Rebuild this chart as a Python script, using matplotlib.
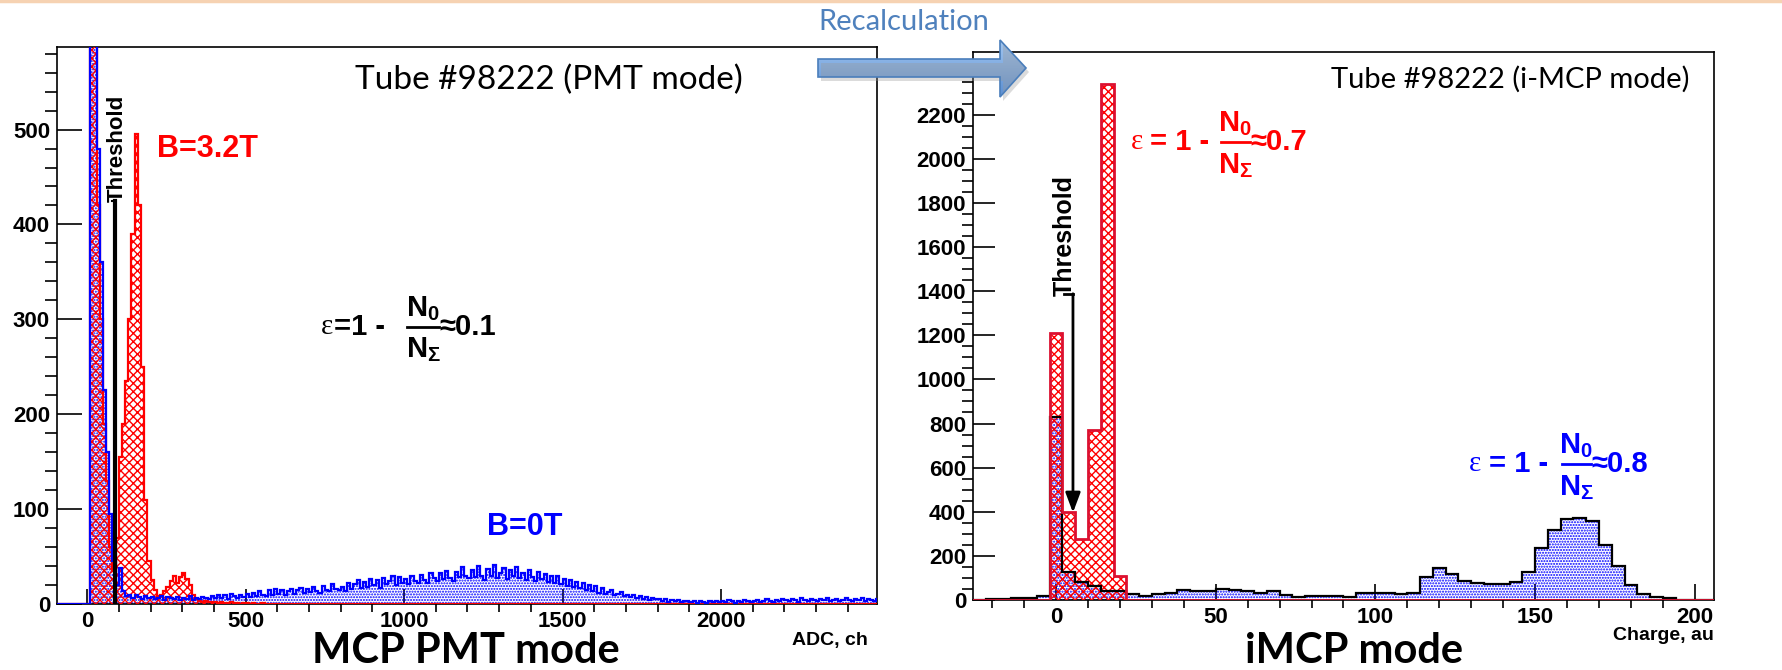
import numpy as np
import matplotlib.pyplot as plt
from matplotlib.patches import Polygon
from matplotlib.colors import LinearSegmentedColormap
from matplotlib.ticker import MultipleLocator

W, H = 1783, 670

# ---------- left panel: MCP PMT mode, ADC spectrum, 10 ch bins from -100 ----------
pmt_start = -100
pmt_width = 10
# B=0T (blue)
pmt_b0 = [0] * 10 + [
    0, 1500, 1400, 480, 360, 225, 160, 95, 45, 20,
    38, 14, 8, 10, 6, 9, 7, 5, 8, 6,
    7, 5, 6, 8, 4, 7, 6, 5, 7, 4,
    6, 5, 8, 4, 6, 5, 7, 6, 5, 8,
    6, 10, 6, 9, 5, 11, 8, 6, 10, 7,
    11, 7, 12, 8, 14, 9, 8, 15, 10, 16,
    11, 15, 10, 14, 16, 11, 15, 17, 12, 16,
    13, 18, 14, 12, 19, 15, 14, 21, 16, 15,
    18, 14, 22, 16, 21, 25, 17, 23, 18, 26,
    20, 25, 17, 27, 21, 24, 29, 20, 28, 22,
    26, 21, 30, 24, 22, 31, 25, 22, 33, 27,
    24, 33, 26, 35, 27, 24, 34, 28, 39, 30,
    27, 36, 28, 40, 29, 25, 37, 30, 41, 27,
    33, 38, 26, 36, 29, 39, 27, 33, 25, 36,
    28, 24, 34, 26, 32, 23, 30, 22, 29, 21,
    26, 19, 25, 18, 23, 17, 22, 15, 20, 14,
    19, 12, 17, 11, 13, 15, 9, 11, 13, 8,
    10, 7, 9, 6, 8, 5, 7, 4, 6, 5,
    5, 3, 5, 2, 4, 3, 4, 2, 3, 3,
    2, 3, 1, 3, 2, 1, 3, 2, 3, 2,
    3, 2, 4, 3, 1, 3, 2, 4, 3, 2,
    3, 4, 2, 3, 5, 3, 2, 4, 3, 5,
    4, 3, 5, 4, 2, 6, 4, 3, 5, 4,
    3, 5, 4, 6, 3, 4, 5, 3, 4, 6,
    4, 3, 5, 4, 6, 3, 5, 4, 3, 5,
]
# B=3.2T (red)
pmt_b32 = [0] * 10 + [
    0, 1500, 1300, 420, 300, 190, 130, 60, 35, 70,
    155, 190, 235, 300, 390, 495, 420, 250, 110, 45,
    25, 15, 8, 10, 14, 18, 24, 30, 22, 28,
    33, 26, 20, 10, 5, 3, 2, 3, 2, 2,
    2, 1, 2, 1, 1, 2, 1, 1, 0, 1,
    1, 0, 1, 0, 0, 1, 0, 0, 0, 0,
]
pmt_b32 = pmt_b32 + [0] * (len(pmt_b0) - len(pmt_b32))
pmt_threshold = 88

# ---------- right panel: iMCP mode, charge spectrum, 4 au bins from -30 ----------
imcp_start = -30
imcp_width = 4
imcp_b0 = [
    0, 0, 5, 5, 10, 10, 19, 830, 125, 82,
    64, 42, 42, 26, 20, 27, 33, 46, 40, 42,
    50, 45, 40, 33, 40, 22, 14, 16, 20, 18,
    15, 30, 33, 30, 28, 30, 102, 145, 117, 87,
    78, 74, 74, 80, 126, 236, 316, 366, 371, 358,
    250, 152, 70, 28, 15, 7, 2, 1, 0, 0,
]
imcp_b32 = [
    0, 0, 0, 0, 0, 0, 0, 1210, 400, 275,
    770, 2340, 110, 0, 0, 0, 0, 0, 0, 0,
    0, 0, 0, 0, 0, 0, 0, 0, 0, 0,
    0, 0, 0, 0, 0, 0, 0, 0, 0, 0,
    0, 0, 0, 0, 0, 0, 0, 0, 0, 0,
    0, 0, 0, 0, 0, 0, 0, 0, 0, 0,
]
imcp_threshold = 5.3
imcp_yticks = [0, 200, 400, 600, 800, 1000, 1200, 1400, 1600, 1800, 2000, 2200, 2400]
imcp_ylabels = ['0', '200', '400', '600', '800', '1000', '1200', '1400', '1600',
                '1800', '2000', '2200', '']

RED = '#ff0000'
CRIMSON = '#dc1030'
BLUE = '#0000ff'
ROOT_FONT = ['Liberation Sans', 'DejaVu Sans']
SLIDE_FONT = ['Lato', 'DejaVu Sans']

plt.rcParams['font.family'] = ROOT_FONT
plt.rcParams['mathtext.fontset'] = 'custom'
plt.rcParams['mathtext.bf'] = 'Liberation Sans:bold'
plt.rcParams['mathtext.rm'] = 'Liberation Sans'
plt.rcParams['mathtext.it'] = 'Liberation Sans:italic'
plt.rcParams['hatch.linewidth'] = 1.0

fig = plt.figure(figsize=(W / 100, H / 100), dpi=100)


def box(x0, y0, x1, y1):
    return [x0 / W, 1 - y1 / H, (x1 - x0) / W, (y1 - y0) / H]


def style_axes(ax, ymin, xmaj, xmin, ylen, xlen):
    ax.yaxis.set_minor_locator(MultipleLocator(ymin))
    ax.xaxis.set_major_locator(MultipleLocator(xmaj))
    ax.xaxis.set_minor_locator(MultipleLocator(xmin))
    ax.tick_params(direction='in', width=1.2, labelsize=16, pad=5, top=False, right=False)
    ax.tick_params(axis='y', which='major', length=ylen)
    ax.tick_params(axis='y', which='minor', length=ylen / 2, width=1.2)
    ax.tick_params(axis='x', which='major', length=xlen)
    ax.tick_params(axis='x', which='minor', length=xlen / 2, width=1.2)
    for lab in ax.get_xticklabels() + ax.get_yticklabels():
        lab.set_fontweight('bold')
    for s in ax.spines.values():
        s.set_linewidth(1.2)


def efficiency(ax, eps_x, eq_x, frac_x, half, res_x, y, up, down, eq, res, color, size):
    kw = dict(color=color, fontsize=size, fontweight='bold', va='center')
    ax.text(eps_x, y, 'ε', color=color, fontsize=size, va='center',
            family=['Liberation Serif', 'DejaVu Serif'])
    ax.text(eq_x, y, eq, ha='left', **kw)
    ax.text(frac_x, y + up, r'$\mathbf{N_0}$', ha='center', va='bottom',
            color=color, fontsize=size)
    ax.text(frac_x, y - down, r'$\mathbf{N_\Sigma}$', ha='center', va='top',
            color=color, fontsize=size)
    ax.plot([frac_x - half, frac_x + half], [y, y], color=color, lw=2, zorder=6)
    ax.text(res_x, y, res, ha='left', **kw)


# ---------------- left panel ----------------
ax1 = fig.add_axes(box(57, 47, 877, 604))
pmt_edges = pmt_start + pmt_width * np.arange(len(pmt_b0) + 1)
ax1.stairs(pmt_b0, pmt_edges, fill=True, facecolor='none', edgecolor=BLUE,
           hatch='......', lw=0, zorder=2)
ax1.stairs(pmt_b32, pmt_edges, fill=True, facecolor='none', edgecolor=RED,
           hatch='xxxx', lw=0, zorder=3)
ax1.stairs(pmt_b32, pmt_edges, color=RED, lw=1.6, baseline=0, zorder=4)
ax1.stairs(pmt_b0, pmt_edges, color=BLUE, lw=1.6, baseline=0, zorder=5)
ax1.plot([pmt_threshold, pmt_threshold], [0, 425], color='black', lw=3, zorder=6)
ax1.plot([pmt_threshold - 8, pmt_threshold], [425, 425], color='black', lw=1.5, zorder=6)
ax1.text(95, 480, 'Threshold', rotation=90, ha='center', va='center',
         fontsize=16, fontweight='bold', zorder=7)
ax1.text(379, 479, 'B=3.2T', color=RED, fontsize=22, fontweight='bold',
         ha='center', va='center')
ax1.text(1382, 81, 'B=0T', color=BLUE, fontsize=22, fontweight='bold',
         ha='center', va='center')
efficiency(ax1, 737, 779, 1060, 50, 1112, 292, 4, 9, '=1 -', '≈0.1', 'black', 21)
ax1.set_xlim(-95, 2492)
ax1.set_ylim(0, 587)
ax1.yaxis.set_major_locator(MultipleLocator(100))
style_axes(ax1, 20, 500, 100, 18, 11)

# ---------------- right panel ----------------
ax2 = fig.add_axes(box(973, 52, 1714, 600))
imcp_edges = imcp_start + imcp_width * np.arange(len(imcp_b0) + 1)
ax2.stairs(imcp_b0, imcp_edges, fill=True, facecolor='none', edgecolor=BLUE,
           hatch='......', lw=0, zorder=2)
ax2.stairs(imcp_b32, imcp_edges, fill=True, facecolor='none', edgecolor=RED,
           hatch='xxxx', lw=0, zorder=3)
ax2.stairs(imcp_b0, imcp_edges, color='black', lw=1.6, baseline=0, zorder=4)
ax2.stairs(imcp_b32, imcp_edges, color=CRIMSON, lw=2, baseline=0, zorder=5)
ax2.annotate('', xy=(imcp_threshold, 396), xytext=(imcp_threshold, 1388),
             arrowprops=dict(arrowstyle='-|>,head_length=0.8,head_width=0.3',
                             mutation_scale=15, lw=2, color='black',
                             shrinkA=0, shrinkB=0), zorder=7)
ax2.plot([2.4, imcp_threshold], [1388, 1388], color='black', lw=2, zorder=7)
ax2.text(2.6, 1650, 'Threshold', rotation=90, ha='center', va='center',
         fontsize=18, fontweight='bold', zorder=7)
efficiency(ax2, 23.3, 29.5, 56.1, 4.6, 60.9, 2075, 18, 40, '= 1 -', '≈0.7', RED, 21)
efficiency(ax2, 129.3, 135.7, 162.9, 4.6, 167.6, 616, 18, 40, '= 1 -', '≈0.8', BLUE, 21)
ax2.set_xlim(-26, 206)
ax2.set_ylim(0, 2484)
ax2.set_yticks(imcp_yticks, imcp_ylabels)
style_axes(ax2, 50, 50, 10, 15.5, 11.5)

# ---------------- slide decorations (pixel coordinates) ----------------
ov = fig.add_axes([0, 0, 1, 1], zorder=10)
ov.axis('off')
ov.patch.set_alpha(0)

ov.plot([0, W], [1, 1], color='#f6d2b2', lw=2.5)

arrow_pts = [(818, 59), (1000, 59), (1000, 40), (1026, 68), (1000, 97),
             (1000, 77), (818, 77)]
shadow = Polygon([(x + 3, y + 4) for x, y in arrow_pts], closed=True,
                 facecolor='#9a9a9a', edgecolor='none', alpha=0.35)
ov.add_patch(shadow)
arrow = Polygon(arrow_pts, closed=True, facecolor='none', edgecolor='#4a7ebb', lw=1.2)
ov.add_patch(arrow)
grad = np.linspace(0, 1, 64).reshape(-1, 1)
img = ov.imshow(grad, cmap=LinearSegmentedColormap.from_list('arr', ['#a3c6f0', '#5b8fd2']),
                extent=(818, 1026, 97, 40), aspect='auto')
img.set_clip_path(arrow)
ov.set_xlim(0, W)
ov.set_ylim(H, 0)

ov.text(818, 22, 'Recalculation', color='#4f81bd', fontsize=21, family=SLIDE_FONT,
        ha='left', va='center')
ov.text(743, 80, 'Tube #98222 (PMT mode)', fontsize=24, family=SLIDE_FONT,
        ha='right', va='center')
ov.text(1690, 79, 'Tube #98222 (i-MCP mode)', fontsize=21, family=SLIDE_FONT,
        ha='right', va='center')
ov.text(466, 670, 'MCP PMT mode', fontsize=30, fontweight='bold', family=SLIDE_FONT,
        ha='center', va='bottom')
ov.text(1354, 670, 'iMCP mode', fontsize=30, fontweight='bold', family=SLIDE_FONT,
        ha='center', va='bottom')
ov.text(868, 640, 'ADC, ch', fontsize=14, fontweight='bold', ha='right', va='center')
ov.text(1714, 635, 'Charge, au', fontsize=14, fontweight='bold', ha='right', va='center')

fig.savefig('out.png', dpi=100)
